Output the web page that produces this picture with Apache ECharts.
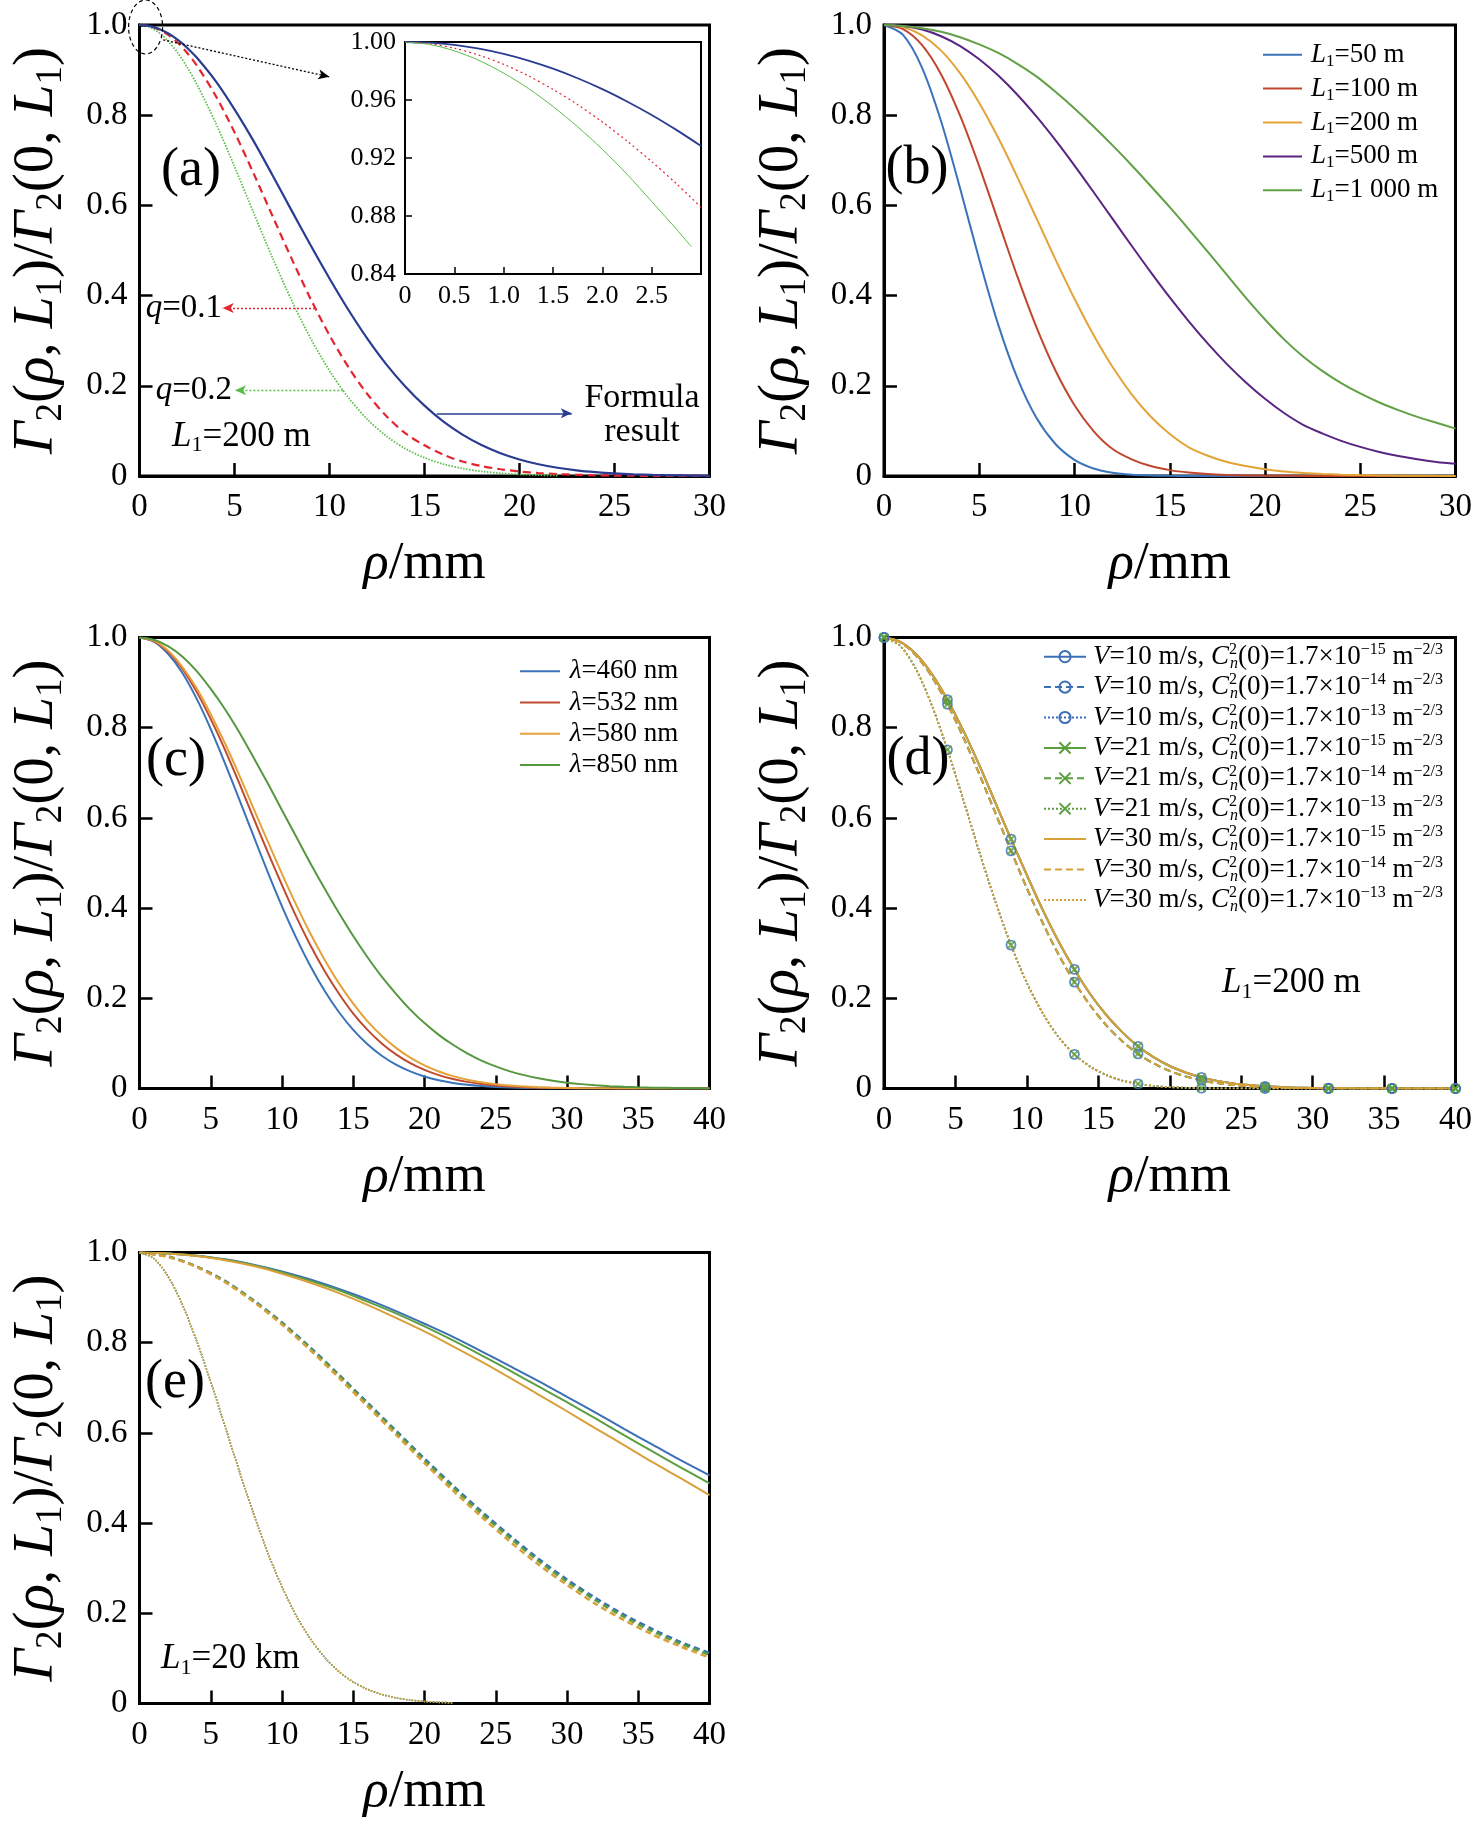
<!DOCTYPE html>
<html><head><meta charset="utf-8">
<script src="https://cdn.jsdelivr.net/npm/echarts@6/dist/echarts.min.js"></script>
<style>html,body{margin:0;padding:0;background:#fff}#c{width:1476px;height:1829px}</style>
</head><body><div id="c"></div>
<script>
// ---------------- data ----------------
// (a) L1=200 m
const rhoA = [0,0.5,1,1.5,2,2.5,3,4,5,6,7,8,9,10,11,12,13,14,15,16,17,18,19,20,21,22,23,24,25,26,27,28,29,30];
const aFormula = [1,0.998,0.9918,0.9816,0.9675,0.9497,0.9283,0.876,0.813,0.743,0.667,0.589,0.512,0.438,0.368,0.304,0.247,0.198,0.156,0.1205,0.0918,0.0687,0.0506,0.0367,0.0261,0.0183,0.0126,0.0086,0.0057,0.0037,0.0024,0.0015,0.0010,0.0006];
const aQ01 = [1,0.9978,0.9908,0.9786,0.9611,0.9386,0.9113,0.8437,0.7622,0.6714,0.5765,0.4825,0.3932,0.3120,0.2411,0.1812,0.1326,0.0943,0.068,0.047,0.032,0.022,0.015,0.010,0.0066,0.0043,0.0027,0.0017,0.0010,0.0006,0.0003,0.0002,0.0001,0];
const aQ02 = [1,0.9958,0.9838,0.9646,0.9389,0.9071,0.8701,0.7837,0.6862,0.5843,0.4839,0.3899,0.3058,0.2333,0.1734,0.1254,0.0883,0.0605,0.0404,0.0263,0.0167,0.0103,0.0062,0.0036,0.0020,0.0011,null,null,null,null,null,null,null,null];
// (a) inset
const rhoInset = [0,0.25,0.5,0.75,1,1.25,1.5,1.75,2,2.25,2.5,2.75,3];
const insetFormula = [1,0.9995,0.998,0.9954,0.9918,0.9872,0.9816,0.975,0.9675,0.959,0.9497,0.9394,0.9283];
const insetQ01 = [1,0.9988,0.9957,0.9909,0.9846,0.9767,0.9673,0.9568,0.9448,0.9317,0.9175,0.9023,0.886];
const rhoInsetQ02 = [0,0.25,0.5,0.75,1,1.25,1.5,1.75,2,2.25,2.5,2.75,2.9];
const insetQ02 = [1,0.9983,0.9939,0.9873,0.9785,0.968,0.9555,0.9415,0.926,0.9088,0.890,0.871,0.859];
// (b) different L1
const rhoB = [0,1,2,3,4,5,6,7,8,9,10,11,12,13,14,15,16,17,18,19,20,21,22,23,24,25,26,27,28,29,30];
const bL50 = [1,0.978,0.905,0.786,0.637,0.480,0.335,0.217,0.129,0.0710,0.0358,0.0166,0.0071,0.0027,0.0010,0.0003,0.0001,0,0,0,0,0,0,0,0,0,0,0,0,0,0];
const bL100 = [1,0.9908,0.9553,0.8904,0.7984,0.6866,0.5645,0.4425,0.3301,0.2338,0.1570,0.0997,0.0598,0.037,0.022,0.013,0.0075,0.0042,0.0024,0.0013,0.0007,0.0004,0.0002,0.0001,0,0,0,0,0,0,0];
const bL200 = [1,0.9953,0.9772,0.9431,0.8926,0.8272,0.7494,0.6628,0.5717,0.4804,0.3929,0.3125,0.2415,0.1812,0.1319,0.0931,0.0637,0.045,0.031,0.022,0.015,0.010,0.0068,0.0045,0.0030,0.0020,0.0013,0.0008,0.0005,0.0003,0.0002];
const bL500 = [1,0.9979,0.9899,0.9751,0.9532,0.9240,0.8878,0.8453,0.7972,0.7445,0.6883,0.6297,0.5700,0.5105,0.4521,0.3959,0.3428,0.2934,0.2481,0.2074,0.1712,0.1396,0.1135,0.0945,0.078,0.0645,0.0534,0.0443,0.0371,0.0313,0.027];
const bL1000 = [1,0.998,0.993,0.985,0.973,0.957,0.938,0.914,0.886,0.852,0.815,0.775,0.733,0.689,0.643,0.596,0.547,0.497,0.446,0.395,0.347,0.303,0.265,0.233,0.206,0.183,0.163,0.146,0.131,0.118,0.105];
const bNames = ['L1=50 m','L1=100 m','L1=200 m','L1=500 m','L1=1 000 m'];
// (c) different wavelengths
const rhoC = [0,1,2,3,4,5,6,7,8,9,10,11,12,13,14,15,16,17,18,19,20,21,22,23,24,25,26,27,28,29,30,31,32,33,34,35,36,37,38,39,40];
const c460 = [1,0.991,0.964,0.922,0.865,0.797,0.721,0.641,0.560,0.480,0.404,0.334,0.271,0.216,0.169,0.130,0.098,0.0727,0.0529,0.0379,0.0266,0.0183,0.0124,0.0082,0.0054,0.0035,0.0022,0.0013,0.0008,0.0005,0.0003,0.0002,0.0001,0,0,0,0,0,0,0,0];
const c532 = [1,0.992,0.969,0.931,0.880,0.819,0.751,0.677,0.600,0.524,0.451,0.381,0.317,0.260,0.210,0.166,0.130,0.0999,0.0756,0.0562,0.0412,0.0297,0.0211,0.0147,0.0101,0.0069,0.0046,0.0030,0.0019,0.0012,0.0008,0.0005,0.0003,0.0002,0.0001,0,0,0,0,0,0];
const c580 = [1,0.993,0.971,0.935,0.888,0.830,0.765,0.695,0.621,0.548,0.476,0.407,0.343,0.285,0.233,0.188,0.149,0.117,0.090,0.0684,0.0512,0.0377,0.0274,0.0196,0.0138,0.0096,0.0066,0.0044,0.0029,0.0019,0.0012,0.0008,0.0005,0.0003,0.0002,0.0001,0,0,0,0,0];
const c850 = [1,0.995,0.981,0.958,0.926,0.886,0.841,0.790,0.734,0.677,0.617,0.558,0.499,0.443,0.389,0.338,0.291,0.248,0.210,0.175,0.145,0.119,0.097,0.078,0.062,0.049,0.038,0.0297,0.0228,0.0173,0.0130,0.0097,0.0072,0.0052,0.0038,0.0027,0.0019,0.0014,0.0010,0.0007,0.0005];
const cNames = ['λ=460 nm','λ=532 nm','λ=580 nm','λ=850 nm'];
// (d) wind speed / Cn2, L1=200 m
const rhoD = [0,1.11,2.22,3.33,4.44,5.56,6.67,7.78,8.89,10,11.11,12.22,13.33,14.44,15.56,16.67,17.78,18.89,20,21.11,22.22,23.33,24.44,25.56,26.67,27.78,28.89,30,31.11,32.22,33.33,34.44,35.56,36.67,37.78,38.89,40];
const dCn15 = [1,0.991,0.964,0.920,0.862,0.793,0.717,0.635,0.553,0.473,0.396,0.326,0.264,0.209,0.163,0.125,0.0935,0.0689,0.0499,0.0354,0.0247,0.0169,0.0113,0.0075,0.0048,0.0031,0.0019,0.0012,0.0007,0.0004,0.0002,0.0001,0,0,0,0,0];
const dCn14 = [1,0.990,0.961,0.914,0.852,0.778,0.697,0.612,0.527,0.444,0.367,0.297,0.236,0.184,0.140,0.105,0.0769,0.0553,0.0389,0.0269,0.0182,0.0120,0.0078,0.0050,0.0031,0.0019,0.0011,0.0007,0.0004,0.0002,0.0001,0,0,0,0,0,0];
const dCn13 = [1,0.982,0.931,0.851,0.751,0.639,0.525,0.416,0.318,0.234,0.167,0.114,0.0757,0.0484,0.0298,0.0177,0.0102,0.0056,0.0030,0.0016,0.0008,0.0004,0.0002,0.0001,0,0,0,0,0,0,0,0,0,0,0,0,0];
const dSpeeds = ['10','21','30'];
const dExps = ['15','14','13'];
// (e) L1=20 km
const rhoE = [0,2,4,6,8,10,12,14,16,18,20,22,24,26,28,30,32,34,36,38,40];
const eV10Cn15 = [1,0.998,0.993,0.985,0.973,0.958,0.940,0.919,0.896,0.870,0.842,0.813,0.781,0.748,0.715,0.680,0.645,0.609,0.574,0.539,0.506];
const eV21Cn15 = [1,0.998,0.993,0.984,0.972,0.956,0.937,0.916,0.891,0.865,0.836,0.805,0.772,0.738,0.703,0.668,0.632,0.595,0.559,0.523,0.488];
const eV30Cn15 = [1,0.998,0.992,0.983,0.970,0.953,0.933,0.910,0.884,0.855,0.825,0.792,0.758,0.722,0.685,0.648,0.610,0.573,0.535,0.499,0.462];
const eV10Cn14 = [1,0.991,0.969,0.937,0.894,0.845,0.789,0.729,0.667,0.605,0.543,0.483,0.426,0.372,0.321,0.275,0.234,0.197,0.165,0.136,0.112];
const eV21Cn14 = [1,0.991,0.969,0.936,0.893,0.843,0.787,0.727,0.664,0.602,0.539,0.479,0.421,0.367,0.316,0.270,0.229,0.192,0.160,0.132,0.108];
const eV30Cn14 = [1,0.990,0.968,0.934,0.891,0.840,0.783,0.722,0.659,0.596,0.533,0.472,0.414,0.359,0.308,0.263,0.221,0.185,0.153,0.126,0.102];
const rhoEdot = [0,1,2,3,4,5,6,7,8,9,10,11,12,13,14,15,16,17,18,19,20,21,22];
const eCn13 = [1,0.987,0.947,0.885,0.805,0.713,0.615,0.516,0.421,0.334,0.259,0.195,0.143,0.102,0.0706,0.0477,0.0314,0.0201,0.0125,0.0076,0.0045,0.0026,0.0014];

// ---------------- helpers ----------------
const FONT = '"Liberation Serif","Times New Roman",serif';
const FF = '"Liberation Serif"';
function rs(size, o) { return Object.assign({fontSize: size, fontFamily: FONT, color: '#000'}, o || {}); }
function zip(xs, ys) { return xs.map((x, i) => [x, ys[i]]); }

const A_BLUE = '#2a3c92', A_RED = '#e4252e', A_GREEN = '#5bbd48';
const B_COL = ['#3a73b9', '#c0462c', '#e3a437', '#5a2483', '#62a045'];
const C_COL = ['#3a73b9', '#bf4a30', '#e6a23a', '#56983f'];
const V_COL = {'10': '#3b6fb6', '21': '#5b9f3e', '30': '#d9a03a'};

const gridBox = [
  {left: 139.5, top: 25, width: 570, height: 451},     // a
  {left: 405, top: 42, width: 296, height: 232},       // inset
  {left: 884, top: 25, width: 571.5, height: 451},     // b
  {left: 139.5, top: 637.5, width: 570, height: 451},  // c
  {left: 884, top: 637.5, width: 571.5, height: 451},  // d
  {left: 139.5, top: 1252.5, width: 570, height: 451}  // e
];
const grids = gridBox.map((g, i) => Object.assign({
  show: true, borderColor: '#000', borderWidth: i === 1 ? 2 : 3,
  backgroundColor: i === 1 ? '#fff' : 'rgba(0,0,0,0)', containLabel: false
}, g));

const Y_TITLE = '{g|Γ}{s|2}{n|(}{g|ρ}{n|, }{g|L}{s|1}{n|)/}{g|Γ}{s|2}{n|(0, }{g|L}{s|1}{n|)}';

function mainX(idx, max) {
  return {
    type: 'value', gridIndex: idx, min: 0, max: max, interval: 5,
    axisLine: {show: true, onZero: false, lineStyle: {color: '#000', width: 3}},
    axisTick: {show: true, inside: true, length: 13, lineStyle: {color: '#000', width: 2.5}},
    axisLabel: {show: true, margin: 15, fontSize: 33, fontFamily: FONT, color: '#000'},
    splitLine: {show: false},
    name: '{g|ρ}{n|/mm}', nameLocation: 'middle', nameGap: 62,
    nameTextStyle: rs(53, {rich: {g: rs(53, {fontStyle: 'italic'}), n: rs(53)}})
  };
}
function mainY(idx) {
  return {
    type: 'value', gridIndex: idx, min: 0, max: 1, interval: 0.2,
    axisLine: {show: true, onZero: false, lineStyle: {color: '#000', width: 3}},
    axisTick: {show: true, inside: true, length: 13, lineStyle: {color: '#000', width: 2.5}},
    axisLabel: {show: true, margin: 12, fontSize: 33, fontFamily: FONT, color: '#000',
      formatter: v => v === 0 ? '0' : v.toFixed(1)},
    splitLine: {show: false},
    name: Y_TITLE, nameLocation: 'middle', nameGap: 70, nameRotate: 90,
    nameTextStyle: rs(57, {lineHeight: 64, rich: {
      n: rs(57, {lineHeight: 64}),
      g: rs(57, {fontStyle: 'italic', lineHeight: 64}),
      s: rs(37, {lineHeight: 37, verticalAlign: 'bottom'})
    }})
  };
}

const xAxes = [
  mainX(0, 30),
  {
    type: 'value', gridIndex: 1, min: 0, max: 3, interval: 0.5,
    axisLine: {show: true, onZero: false, lineStyle: {color: '#000', width: 2}},
    axisTick: {show: true, inside: true, length: 7, lineStyle: {color: '#000', width: 1.5}},
    axisLabel: {margin: 9, fontSize: 26, fontFamily: FONT, color: '#000',
      formatter: v => (Math.abs(v - 3) < 1e-9 ? '' : (v === 0 ? '0' : v.toFixed(1)))},
    splitLine: {show: false}
  },
  mainX(2, 30), mainX(3, 40), mainX(4, 40), mainX(5, 40)
];
const yAxes = [
  mainY(0),
  {
    type: 'value', gridIndex: 1, min: 0.84, max: 1.0, interval: 0.04,
    axisLine: {show: true, onZero: false, lineStyle: {color: '#000', width: 2}},
    axisTick: {show: true, inside: true, length: 7, lineStyle: {color: '#000', width: 1.5}},
    axisLabel: {margin: 9, fontSize: 26, fontFamily: FONT, color: '#000', formatter: v => v.toFixed(2)},
    splitLine: {show: false}
  },
  mainY(2), mainY(3), mainY(4), mainY(5)
];

function line(name, ax, xs, ys, color, width, type, extra) {
  return Object.assign({
    name: name, type: 'line', xAxisIndex: ax, yAxisIndex: ax, data: zip(xs, ys),
    symbol: 'none', showSymbol: false, smooth: 0.3,
    lineStyle: {color: color, width: width, type: type || 'solid'},
    itemStyle: {color: color}, emphasis: {disabled: true}, silent: true, z: 2
  }, extra || {});
}
const ARROW = [7.5, 11];
const series = [];

// (a)
series.push(line('a-formula', 0, rhoA, aFormula, A_BLUE, 2.2, 'solid', {z: 3,
  markLine: {silent: true, animation: false, symbol: ['none', 'arrow'], label: {show: false},
    emphasis: {disabled: true}, lineStyle: {color: A_BLUE, width: 1.5, type: 'solid'},
    data: [
      [{coord: [15.64, 0.139]}, {coord: [22.75, 0.139], symbol: 'arrow', symbolSize: ARROW}],
      [{coord: [1.25, 0.967], lineStyle: {color: '#000', width: 1.3, type: [2, 2]}},
       {coord: [9.99, 0.885], symbol: 'arrow', symbolSize: ARROW}]
    ]}}));
series.push(line('a-q01', 0, rhoA, aQ01, A_RED, 2.2, [8, 5], {
  markLine: {silent: true, animation: false, symbol: ['none', 'arrow'], label: {show: false},
    emphasis: {disabled: true}, lineStyle: {color: A_RED, width: 1.3, type: [2, 2]},
    data: [[{coord: [9.24, 0.3725]}, {coord: [4.38, 0.3725], symbol: 'arrow', symbolSize: ARROW}]]}}));
series.push(line('a-q02', 0, rhoA, aQ02, A_GREEN, 1.8, [1.5, 1.5], {
  markLine: {silent: true, animation: false, symbol: ['none', 'arrow'], label: {show: false},
    emphasis: {disabled: true}, lineStyle: {color: A_GREEN, width: 1.3, type: [2, 2]},
    data: [[{coord: [10.73, 0.19]}, {coord: [5.03, 0.19], symbol: 'arrow', symbolSize: ARROW}]]}}));
// inset
series.push(line('in-formula', 1, rhoInset, insetFormula, A_BLUE, 1.8, 'solid'));
series.push(line('in-q01', 1, rhoInset, insetQ01, A_RED, 1.2, [2, 3]));
series.push(line('in-q02', 1, rhoInsetQ02, insetQ02, A_GREEN, 1.0, 'solid'));
// (b)
[bL50, bL100, bL200, bL500, bL1000].forEach((ys, i) => series.push(line(bNames[i], 2, rhoB, ys, B_COL[i], 2)));
// (c)
[c460, c532, c580, c850].forEach((ys, i) => series.push(line(cNames[i], 3, rhoC, ys, C_COL[i], 2)));
// (d)
const dCurves = {'15': dCn15, '14': dCn14, '13': dCn13};
const dType = {'15': 'solid', '14': [7, 4], '13': [2, 2]};
const dWidth = {'15': 2, '14': 2, '13': 1.8};
const X_PATH = 'path://M0,0L10,10M10,0L0,10';
const dNames = [];
const dRich = {};
dSpeeds.forEach(v => dExps.forEach(e => {
  const nm = 'V=' + v + ' m/s, Cn2(0)=1.7e-' + e;
  dNames.push(nm);
  dRich[nm] = '{i|V}{n|=' + v + ' m/s, }{i|C}{p|2}{b|n}{n|(0)=1.7×10}{q|−' + e + '}{n| m}{q|−2/3}';
  const extra = {};
  if (v === '10') Object.assign(extra, {symbol: 'circle', itemStyle: {color: 'rgba(0,0,0,0)', borderColor: V_COL[v], borderWidth: 2}});
  if (v === '21') Object.assign(extra, {symbol: X_PATH, itemStyle: {color: 'rgba(0,0,0,0)', borderColor: V_COL[v], borderWidth: 2}});
  series.push(line(nm, 4, rhoD, dCurves[e], V_COL[v], dWidth[e], dType[e], extra));
}));
const dMarkIdx = rhoD.map((x, i) => i).filter(i => i % 4 === 0);
function marks(ys) { return dMarkIdx.map(i => [rhoD[i], ys[i]]); }
['10', '21'].forEach(v => dExps.forEach(e => {
  series.push({
    name: 'mk-' + v + '-' + e, type: 'scatter', xAxisIndex: 4, yAxisIndex: 4, data: marks(dCurves[e]),
    symbol: v === '10' ? 'circle' : X_PATH, symbolSize: v === '10' ? 9 : 8,
    itemStyle: {color: 'rgba(0,0,0,0)', borderColor: V_COL[v], borderWidth: v === '10' ? 1.8 : 2},
    silent: true, emphasis: {disabled: true}, z: v === '10' ? 4 : 5
  });
}));
// (e)
const eSolid = {'10': eV10Cn15, '21': eV21Cn15, '30': eV30Cn15};
const eDash = {'10': eV10Cn14, '21': eV21Cn14, '30': eV30Cn14};
dSpeeds.forEach(v => series.push(line('e-' + v + '-15', 5, rhoE, eSolid[v], V_COL[v], 2, 'solid')));
dSpeeds.forEach(v => series.push(line('e-' + v + '-14', 5, rhoE, eDash[v], V_COL[v], 2.5, [6, 4])));
dSpeeds.forEach(v => series.push(line('e-' + v + '-13', 5, rhoEdot, eCn13, V_COL[v], 1.6, [1.5, 1.5])));

// ---------------- legends ----------------
const bRich = {'L1=50 m': '{i|L}{s|1}{n|=50 m}', 'L1=100 m': '{i|L}{s|1}{n|=100 m}', 'L1=200 m': '{i|L}{s|1}{n|=200 m}',
  'L1=500 m': '{i|L}{s|1}{n|=500 m}', 'L1=1 000 m': '{i|L}{s|1}{n|=1 000 m}'};
const cRich = {'λ=460 nm': '{i|λ}{n|=460 nm}', 'λ=532 nm': '{i|λ}{n|=532 nm}', 'λ=580 nm': '{i|λ}{n|=580 nm}', 'λ=850 nm': '{i|λ}{n|=850 nm}'};
const legRichBase = {
  n: rs(27, {lineHeight: 30}), i: rs(27, {fontStyle: 'italic', lineHeight: 30}),
  s: rs(17, {lineHeight: 17, verticalAlign: 'bottom'})
};
const legends = [
  {left: 1262, top: 39.7, orient: 'vertical', padding: 0, itemGap: 3.9, itemWidth: 39, itemHeight: 14,
   selectedMode: false, data: bNames, itemStyle: {opacity: 0}, formatter: n => bRich[n],
   textStyle: rs(27, {lineHeight: 30, padding: [0, 0, 0, 4], rich: legRichBase})},
  {left: 519, top: 656.2, orient: 'vertical', padding: 0, itemGap: 1.3, itemWidth: 40, itemHeight: 14,
   selectedMode: false, data: cNames, itemStyle: {opacity: 0}, formatter: n => cRich[n],
   textStyle: rs(27, {lineHeight: 30, padding: [0, 0, 0, 4.7], rich: legRichBase})},
  {left: 1043, top: 641.7, orient: 'vertical', padding: 0, itemGap: 0.4, itemWidth: 42, itemHeight: 14,
   selectedMode: false,
   data: dNames.map(n => n.indexOf('V=30') === 0 ? {name: n, itemStyle: {opacity: 0}} : {name: n}),
   formatter: n => dRich[n],
   textStyle: rs(27, {lineHeight: 30, padding: [0, 0, 0, 2], rich: {
     n: rs(27, {lineHeight: 30}), i: rs(27, {fontStyle: 'italic', lineHeight: 30}),
     p: rs(16, {lineHeight: 16, verticalAlign: 'top', width: 1}),
     b: rs(16, {fontStyle: 'italic', lineHeight: 16, verticalAlign: 'bottom'}),
     q: rs(16, {lineHeight: 16, verticalAlign: 'top'})
   }})}
];

// ---------------- annotations ----------------
function tx(x, y, text, size, align, rich) {
  const st = {text: text, font: size + 'px ' + FF, fill: '#000',
    textAlign: align, align: align, textVerticalAlign: 'middle', verticalAlign: 'middle'};
  if (rich) st.rich = rich;
  return {type: 'text', x: x, y: y, silent: true, z: 50, style: st};
}
function lRich(size) {
  return {
    i: {font: 'italic ' + size + 'px ' + FF, fill: '#000', lineHeight: size + 5},
    n: {font: size + 'px ' + FF, fill: '#000', lineHeight: size + 5},
    s: {font: Math.round(size * 0.62) + 'px ' + FF, fill: '#000', lineHeight: Math.round(size * 0.62), verticalAlign: 'bottom'}
  };
}
const graphics = [
  {type: 'ellipse', silent: true, z: 50, shape: {cx: 145.6, cy: 27, rx: 17, ry: 27},
   style: {fill: 'none', stroke: '#000', lineWidth: 1.2, lineDash: [4, 3]}},
  tx(191, 171, '(a)', 54, 'center'),
  tx(917, 168.5, '(b)', 54, 'center'),
  tx(176, 761, '(c)', 54, 'center'),
  tx(918, 760, '(d)', 54, 'center'),
  tx(175, 1383, '(e)', 54, 'center'),
  tx(222, 308, '{i|q}{n|=0.1}', 33, 'right', lRich(33)),
  tx(232, 390.7, '{i|q}{n|=0.2}', 33, 'right', lRich(33)),
  tx(172, 436.7, '{i|L}{s|1}{n|=200 m}', 35, 'left', lRich(35)),
  tx(642, 398, 'Formula', 34, 'center'),
  tx(642, 432.5, 'result', 34, 'center'),
  tx(1222, 983, '{i|L}{s|1}{n|=200 m}', 35, 'left', lRich(35)),
  tx(161, 1659, '{i|L}{s|1}{n|=20 km}', 35, 'left', lRich(35))
];

const chart = echarts.init(document.getElementById('c'), null, {renderer: 'canvas'});
chart.setOption({
  animation: false,
  backgroundColor: '#fff',
  grid: grids,
  xAxis: xAxes,
  yAxis: yAxes,
  legend: legends,
  series: series,
  graphic: graphics
});
</script></body></html>
